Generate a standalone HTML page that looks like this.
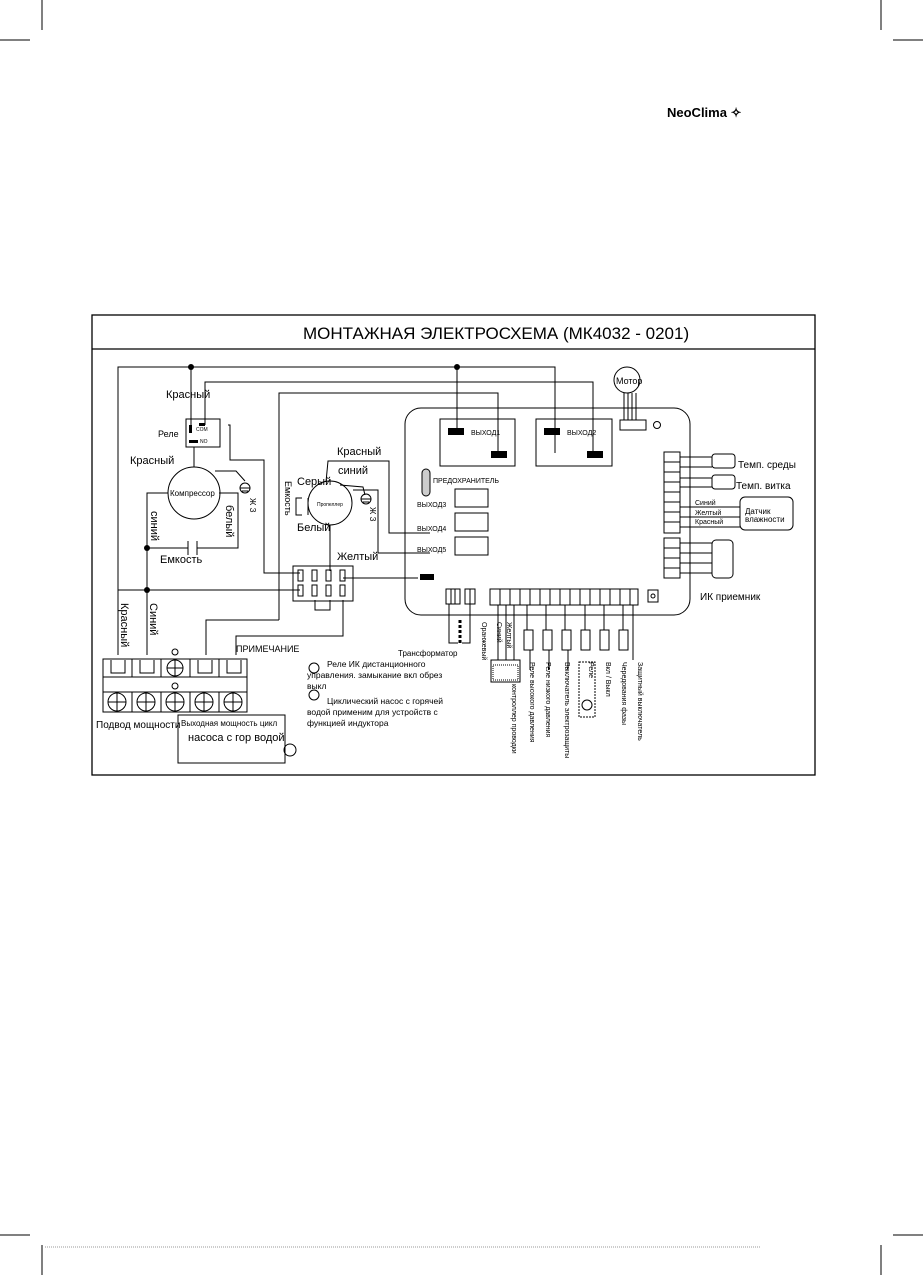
<!DOCTYPE html>
<html><head><meta charset="utf-8"><style>
html,body{margin:0;padding:0;background:#fff;}
svg{display:block;font-family:"Liberation Sans",sans-serif;}
</style></head><body>
<svg width="923" height="1275" viewBox="0 0 923 1275" xmlns="http://www.w3.org/2000/svg">
<g stroke="#000" stroke-width="1" fill="none">
<line x1="0" y1="40" x2="30" y2="40"/><line x1="42" y1="0" x2="42" y2="30"/>
<line x1="893" y1="40" x2="923" y2="40"/><line x1="881" y1="0" x2="881" y2="30"/>
<line x1="0" y1="1235" x2="30" y2="1235"/><line x1="42" y1="1245" x2="42" y2="1275"/>
<line x1="893" y1="1235" x2="923" y2="1235"/><line x1="881" y1="1245" x2="881" y2="1275"/>
<line x1="45" y1="1247" x2="760" y2="1247" stroke="#999" stroke-dasharray="1,1"/>
<rect x="92" y="315" width="723" height="460" stroke-width="1.3"/>
<line x1="92" y1="349" x2="815" y2="349" stroke-width="1.3"/>
<polyline points="118,655 118,367 555,367 555,453"/>
<line x1="191" y1="367" x2="191" y2="430"/>
<line x1="457" y1="367" x2="457" y2="431"/>
<polyline points="205,425 205,382 593,382 593,453"/>
<polyline points="279,620 279,393 498,393 498,453"/>
<polyline points="228,425 230,425 230,460 264,460 264,573 300,573"/>
<line x1="194" y1="447" x2="194" y2="467"/>
<polyline points="215,471 236,471 245,481"/>
<polyline points="168,493 147,493 147,655"/>
<polyline points="219,493 238,493 238,548 197,548"/>
<line x1="147" y1="548" x2="188" y2="548"/>
<line x1="188" y1="541" x2="188" y2="555"/><line x1="197" y1="541" x2="197" y2="555"/>
<polyline points="118,590 300,590"/>
<line x1="330" y1="525" x2="330" y2="571"/>
<polyline points="326,482 328,461 389,461 389,533 430,533"/>
<polyline points="353,490 378,490 378,553 430,553"/>
<polyline points="343,578 418,578"/>
<polyline points="340,485 363,487 365,495"/>
<polyline points="302,498 296,498 296,515 302,515"/>
<polyline points="308,498 308,515"/>
<polyline points="206,655 206,620 279,620"/>
<polyline points="236,655 236,636 343,636 343,600"/>
<polyline points="315,600 315,610 330,610 330,600"/>
<rect x="186" y="419" width="34" height="28"/>
<circle cx="194" cy="493" r="26"/>
<circle cx="330" cy="503" r="22"/>
<circle cx="245" cy="488" r="5"/><line x1="240" y1="488" x2="250" y2="488"/><line x1="242" y1="491" x2="248" y2="491"/>
<circle cx="366" cy="499" r="5"/><line x1="361" y1="499" x2="371" y2="499"/><line x1="363" y1="502" x2="369" y2="502"/>
<rect x="293" y="566" width="60" height="35"/>
<rect x="298" y="570" width="5" height="11"/><rect x="312" y="570" width="5" height="11"/><rect x="326" y="570" width="5" height="11"/><rect x="340" y="570" width="5" height="11"/>
<rect x="298" y="585" width="5" height="11"/><rect x="312" y="585" width="5" height="11"/><rect x="326" y="585" width="5" height="11"/><rect x="340" y="585" width="5" height="11"/>
<rect x="405" y="408" width="285" height="207" rx="16"/>
<rect x="440" y="419" width="75" height="47"/>
<rect x="536" y="419" width="76" height="47"/>
<rect x="455" y="489" width="33" height="18"/>
<rect x="455" y="513" width="33" height="18"/>
<rect x="455" y="537" width="33" height="18"/>
<rect x="422" y="469" width="8" height="27" rx="4" fill="#ccc"/>
<circle cx="627" cy="380" r="13"/>
<line x1="624" y1="393" x2="624" y2="420"/><line x1="628" y1="393" x2="628" y2="420"/><line x1="632" y1="393" x2="632" y2="420"/><line x1="636" y1="393" x2="636" y2="420"/>
<rect x="620" y="420" width="26" height="10"/>
<circle cx="657" cy="425" r="3.5"/>
<rect x="664" y="452" width="16" height="81"/>
<line x1="664" y1="462" x2="680" y2="462"/><line x1="664" y1="472" x2="680" y2="472"/><line x1="664" y1="482" x2="680" y2="482"/><line x1="664" y1="492" x2="680" y2="492"/><line x1="664" y1="502" x2="680" y2="502"/><line x1="664" y1="512" x2="680" y2="512"/><line x1="664" y1="522" x2="680" y2="522"/>
<rect x="664" y="538" width="16" height="40"/>
<line x1="664" y1="548" x2="680" y2="548"/><line x1="664" y1="558" x2="680" y2="558"/><line x1="664" y1="568" x2="680" y2="568"/>
<polyline points="680,457 712,457"/><polyline points="680,467 712,467"/><line x1="690" y1="457" x2="690" y2="467"/>
<polyline points="680,478 712,478"/><polyline points="680,487 712,487"/><line x1="690" y1="478" x2="690" y2="487"/>
<rect x="712" y="454" width="23" height="14" rx="3"/>
<rect x="712" y="475" width="23" height="14" rx="3"/>
<line x1="680" y1="507" x2="740" y2="507"/><line x1="680" y1="517" x2="740" y2="517"/><line x1="680" y1="527" x2="740" y2="527"/>
<rect x="740" y="497" width="53" height="33" rx="5"/>
<line x1="680" y1="543" x2="712" y2="543"/><line x1="680" y1="553" x2="712" y2="553"/><line x1="680" y1="563" x2="712" y2="563"/><line x1="680" y1="573" x2="712" y2="573"/>
<rect x="712" y="540" width="21" height="38" rx="4"/>
<rect x="446" y="589" width="14" height="15"/><line x1="451" y1="589" x2="451" y2="604"/><line x1="455" y1="589" x2="455" y2="604"/>
<rect x="465" y="589" width="10" height="15"/><line x1="470" y1="589" x2="470" y2="604"/>
<rect x="490" y="589" width="148" height="16"/>
<line x1="500" y1="589" x2="500" y2="605"/><line x1="510" y1="589" x2="510" y2="605"/><line x1="520" y1="589" x2="520" y2="605"/><line x1="530" y1="589" x2="530" y2="605"/><line x1="540" y1="589" x2="540" y2="605"/><line x1="550" y1="589" x2="550" y2="605"/><line x1="560" y1="589" x2="560" y2="605"/><line x1="570" y1="589" x2="570" y2="605"/><line x1="580" y1="589" x2="580" y2="605"/><line x1="590" y1="589" x2="590" y2="605"/><line x1="600" y1="589" x2="600" y2="605"/><line x1="610" y1="589" x2="610" y2="605"/><line x1="620" y1="589" x2="620" y2="605"/><line x1="630" y1="589" x2="630" y2="605"/>
<rect x="648" y="590" width="10" height="12"/><circle cx="653" cy="596" r="2"/>
<polyline points="449,604 449,643 458,643"/><polyline points="470,604 470,643 462,643"/>
<line x1="460" y1="620" x2="460" y2="643" stroke-width="3" stroke-dasharray="3,2"/>
<line x1="498" y1="605" x2="498" y2="660"/><line x1="506" y1="605" x2="506" y2="660"/><line x1="514" y1="605" x2="514" y2="660"/>
<rect x="491" y="660" width="29" height="22"/>
<rect x="493" y="665" width="25" height="15" stroke-dasharray="1,1"/>
<rect x="524" y="630" width="9" height="20"/><line x1="527" y1="605" x2="527" y2="630"/><line x1="530" y1="650" x2="530" y2="670"/>
<rect x="543" y="630" width="9" height="20"/><line x1="546" y1="605" x2="546" y2="630"/><line x1="549" y1="650" x2="549" y2="670"/>
<rect x="562" y="630" width="9" height="20"/><line x1="565" y1="605" x2="565" y2="630"/><line x1="568" y1="650" x2="568" y2="670"/>
<rect x="581" y="630" width="9" height="20"/><line x1="585" y1="605" x2="585" y2="630"/>
<rect x="600" y="630" width="9" height="20"/><line x1="604" y1="605" x2="604" y2="630"/>
<rect x="619" y="630" width="9" height="20"/><line x1="623" y1="605" x2="623" y2="630"/><line x1="633" y1="605" x2="633" y2="660"/>
<rect x="579" y="662" width="16" height="55" stroke-dasharray="2,1"/>
<circle cx="587" cy="705" r="5"/>
<rect x="103" y="659" width="144" height="53"/>
<line x1="103" y1="677" x2="247" y2="677"/><line x1="103" y1="692" x2="247" y2="692"/>
<line x1="132" y1="659" x2="132" y2="677"/><line x1="161" y1="659" x2="161" y2="677"/><line x1="190" y1="659" x2="190" y2="677"/><line x1="219" y1="659" x2="219" y2="677"/>
<line x1="132" y1="692" x2="132" y2="712"/><line x1="161" y1="692" x2="161" y2="712"/><line x1="190" y1="692" x2="190" y2="712"/><line x1="219" y1="692" x2="219" y2="712"/>
<polyline points="111,660 111,673 125,673 125,660"/>
<polyline points="140,660 140,673 154,673 154,660"/>
<polyline points="198,660 198,673 212,673 212,660"/>
<polyline points="227,660 227,673 241,673 241,660"/>
<circle cx="175" cy="668" r="8"/><line x1="167" y1="668" x2="183" y2="668"/><line x1="175" y1="660" x2="175" y2="676"/>
<circle cx="117" cy="702" r="9"/><line x1="108" y1="702" x2="126" y2="702"/><line x1="117" y1="693" x2="117" y2="711"/>
<circle cx="146" cy="702" r="9"/><line x1="137" y1="702" x2="155" y2="702"/><line x1="146" y1="693" x2="146" y2="711"/>
<circle cx="175" cy="702" r="9"/><line x1="166" y1="702" x2="184" y2="702"/><line x1="175" y1="693" x2="175" y2="711"/>
<circle cx="204" cy="702" r="9"/><line x1="195" y1="702" x2="213" y2="702"/><line x1="204" y1="693" x2="204" y2="711"/>
<circle cx="233" cy="702" r="9"/><line x1="224" y1="702" x2="242" y2="702"/><line x1="233" y1="693" x2="233" y2="711"/>
<circle cx="175" cy="652" r="3"/><circle cx="175" cy="686" r="3"/>
<rect x="178" y="715" width="107" height="48"/>
<circle cx="290" cy="750" r="6"/>
<circle cx="314" cy="668" r="5"/><circle cx="314" cy="695" r="5"/>
</g>
<g fill="#000">
<circle cx="191" cy="367" r="3"/><circle cx="457" cy="367" r="3"/>
<circle cx="147" cy="548" r="3"/><circle cx="147" cy="590" r="3"/>
<rect x="448" y="428" width="16" height="7"/><rect x="491" y="451" width="16" height="7"/>
<rect x="544" y="428" width="16" height="7"/><rect x="587" y="451" width="16" height="7"/>
<rect x="420" y="574" width="14" height="6"/>
<rect x="189" y="425" width="3" height="8"/><rect x="189" y="440" width="9" height="3"/><rect x="199" y="423" width="6" height="3"/>
</g>
<g fill="#000">
<text x="667" y="117" font-size="13" font-weight="bold">NeoClima ✧</text>
<text x="303" y="339" font-size="17">МОНТАЖНАЯ ЭЛЕКТРОСХЕМА (МК4032 - 0201)</text>
<text x="166" y="398" font-size="11">Красный</text>
<text x="158" y="437" font-size="9">Реле</text>
<text x="196" y="431" font-size="5">COM</text><text x="200" y="443" font-size="5">NO</text>
<text x="130" y="464" font-size="11">Красный</text>
<text x="170" y="496" font-size="8">Компрессор</text>
<text x="160" y="563" font-size="11">Емкость</text>
<text x="337" y="455" font-size="11">Красный</text>
<text x="338" y="474" font-size="11">синий</text>
<text x="297" y="485" font-size="11">Серый</text>
<text x="297" y="531" font-size="11">Белый</text>
<text x="337" y="560" font-size="11">Желтый</text>
<text x="317" y="506" font-size="5">Пропеллер</text>
<text x="471" y="435" font-size="7">ВЫХОД1</text>
<text x="567" y="435" font-size="7">ВЫХОД2</text>
<text x="433" y="483" font-size="7">ПРЕДОХРАНИТЕЛЬ</text>
<text x="417" y="507" font-size="7">ВЫХОД3</text>
<text x="417" y="531" font-size="7">ВЫХОД4</text>
<text x="417" y="552" font-size="7">ВЫХОД5</text>
<text x="616" y="384" font-size="9">Мотор</text>
<text x="738" y="468" font-size="10">Темп. среды</text>
<text x="736" y="489" font-size="10">Темп. витка</text>
<text x="695" y="505" font-size="7">Синий</text>
<text x="695" y="515" font-size="7">Желтый</text>
<text x="695" y="524" font-size="7">Красный</text>
<text x="745" y="514" font-size="8">Датчик</text>
<text x="745" y="522" font-size="8">влажности</text>
<text x="700" y="600" font-size="10">ИК приемник</text>
<text x="398" y="656" font-size="8">Трансформатор</text>
<text x="236" y="652" font-size="9">ПРИМЕЧАНИЕ</text>
<text x="96" y="728" font-size="10">Подвод мощности</text>
<text x="181" y="726" font-size="8">Выходная мощность цикл</text>
<text x="188" y="741" font-size="11">насоса с гор водой</text>
<text x="327" y="667" font-size="8.5">Реле ИК дистанционного</text>
<text x="307" y="678" font-size="8.5">управления.  замыкание  вкл обрез</text>
<text x="307" y="689" font-size="8.5">выкл</text>
<text x="327" y="704" font-size="8.5">Циклический насос с горячей</text>
<text x="307" y="715" font-size="8.5">водой применим для устройств с</text>
<text x="307" y="726" font-size="8.5">функцией индуктора</text>
<g font-size="11">
<text transform="translate(121,603) rotate(90)">Красный</text>
<text transform="translate(150,603) rotate(90)">Синий</text>
<text transform="translate(151,511) rotate(90)">синий</text>
<text transform="translate(226,505) rotate(90)">белый</text>
</g>
<text transform="translate(250,498) rotate(90)" font-size="8">Ж З</text>
<text transform="translate(370,507) rotate(90)" font-size="8">Ж З</text>
<text transform="translate(285,481) rotate(90)" font-size="9">Емкость</text>
<g font-size="7">
<text transform="translate(482,622) rotate(90)">Оранжевый</text>
<text transform="translate(497,622) rotate(90)">Синий</text>
<text transform="translate(507,622) rotate(90)">Желтый</text>
<text transform="translate(512,684) rotate(90)">контроллер проводки</text>
<text transform="translate(530,662) rotate(90)">Реле высокого давления</text>
<text transform="translate(546,662) rotate(90)">Реле низкого давления</text>
<text transform="translate(565,662) rotate(90)">Выключатель электрозащиты</text>
<text transform="translate(589,662) rotate(90)">Реле</text>
<text transform="translate(606,662) rotate(90)">Вкл / Выкл</text>
<text transform="translate(622,662) rotate(90)">Чередования фазы</text>
<text transform="translate(638,662) rotate(90)">Защитный выключатель</text>
</g>
</g>
</svg>
</body></html>
